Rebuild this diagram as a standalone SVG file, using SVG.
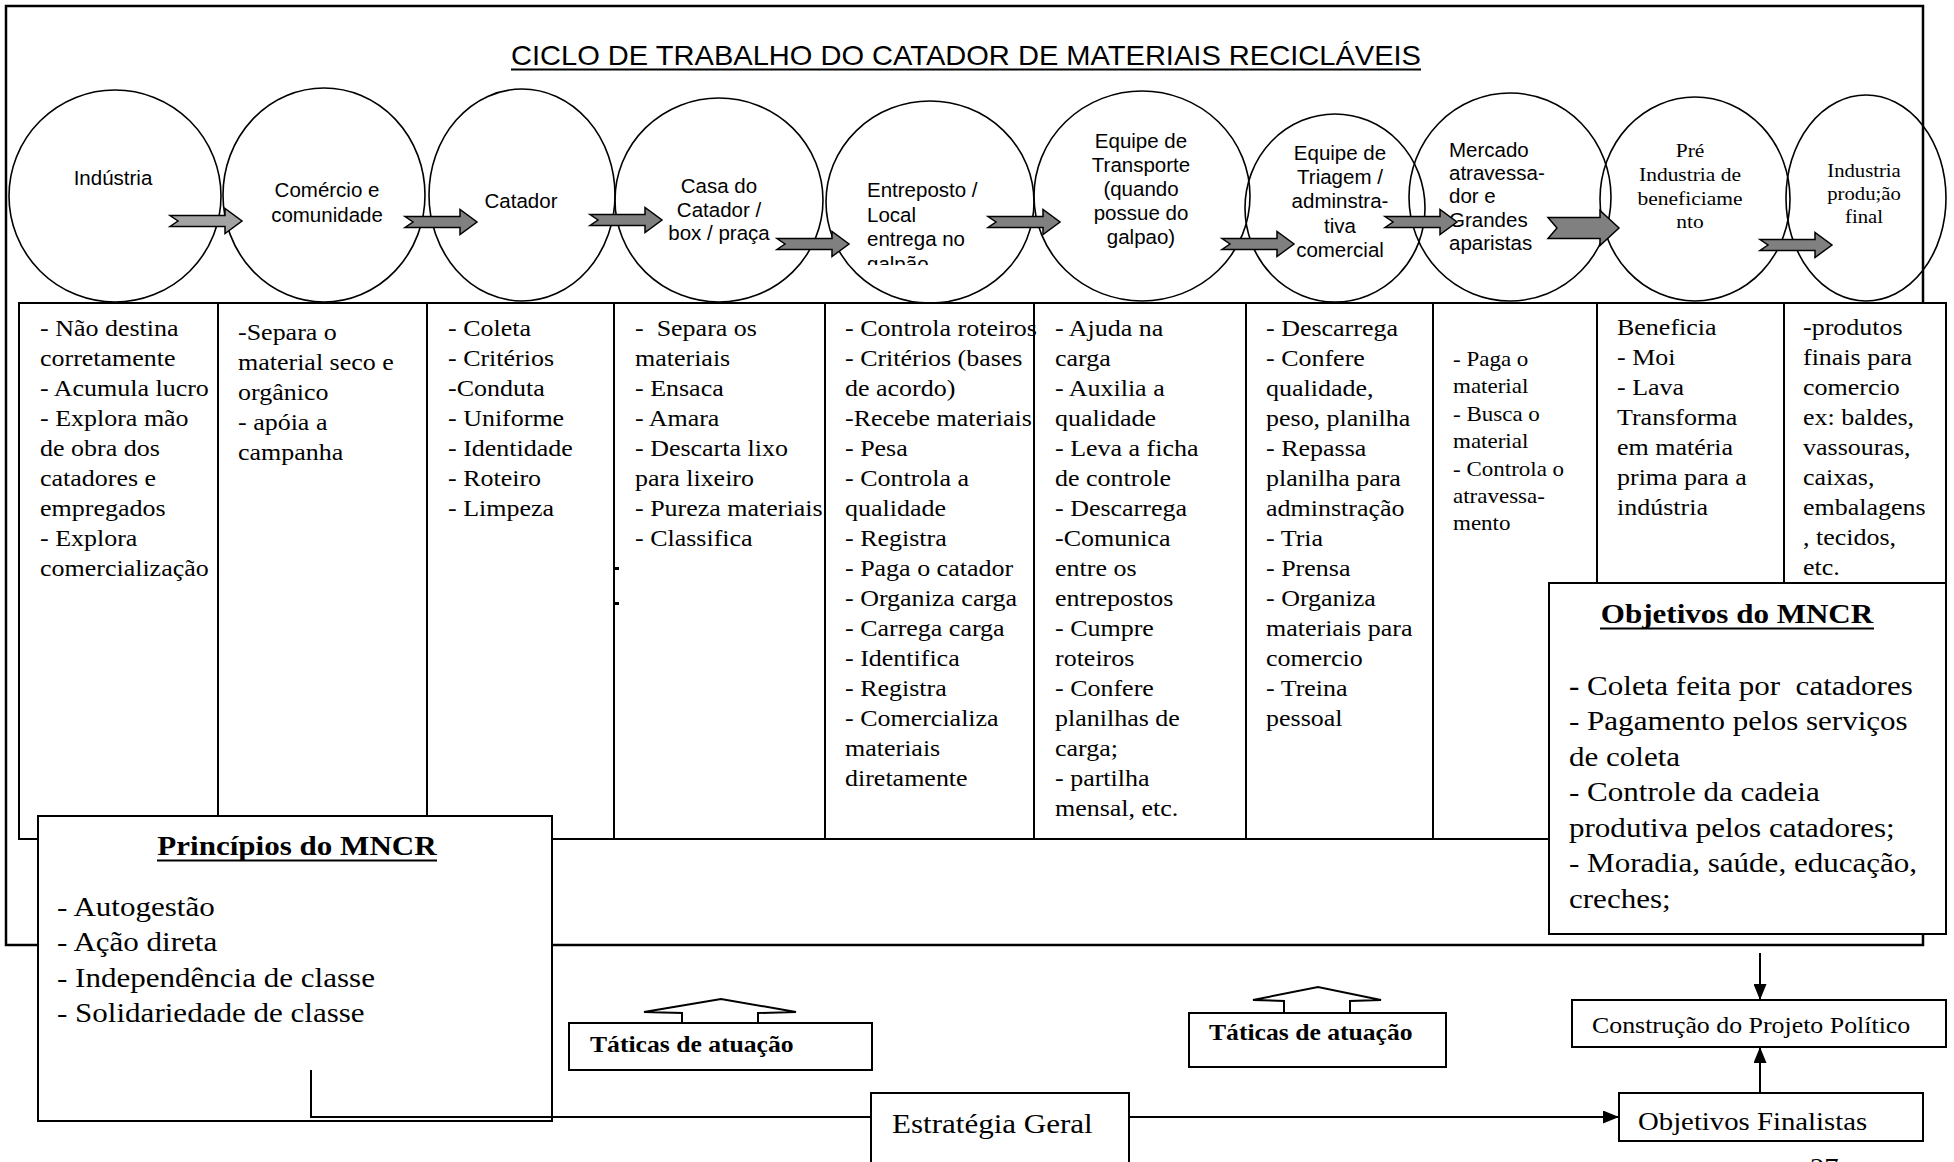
<svg xmlns="http://www.w3.org/2000/svg" width="1954" height="1162" viewBox="0 0 1954 1162">
<defs>
<style>
.ln{fill:none;stroke:#000;stroke-width:2}
.box{fill:#fff;stroke:#000;stroke-width:2}
.frame{fill:none;stroke:#000;stroke-width:2.5}
.ell{fill:none;stroke:#000;stroke-width:1.6}
.ar{font-family:"Liberation Sans",Arial,sans-serif;font-size:20.5px;fill:#000}
.tm{font-family:"Liberation Serif","Times New Roman",serif;fill:#000}
.cell{font-size:22.6px}
.small{font-size:20px}
.big{font-size:27px}
.b{font-weight:bold}
.blk{fill:#808080;stroke:#000;stroke-width:1.5}
.blk1{fill:#a3a3a3;stroke:#000;stroke-width:1.5}
.tick{fill:#000}
</style>
<path id="blk" d="M0,-5.5 H55 V-12.5 L72,0 L55,12.5 V5.5 H0 L8,0 Z"/>
<path id="blkBig" d="M0,-10.5 H52 V-17.5 L71,0 L52,17.5 V10.5 H0 L9,0 Z"/>
<marker id="ah" markerWidth="16" markerHeight="13" refX="16" refY="6.5" orient="auto" markerUnits="userSpaceOnUse"><path d="M0,0 L16,6.5 L0,13 Z" fill="#000"/></marker>
<clipPath id="clipE"><rect x="840" y="150" width="180" height="115"/></clipPath>
</defs>
<rect width="1954" height="1162" fill="#fff"/>

<!-- outer frame -->
<rect class="frame" x="6" y="6" width="1917" height="939"/>

<!-- title -->
<g id="title">
<text class="ar" x="511" y="65" style="font-size:28.5px" textLength="910" lengthAdjust="spacingAndGlyphs">CICLO DE TRABALHO DO CATADOR DE MATERIAIS RECICLÁVEIS</text>
<line class="ln" x1="511" y1="69.5" x2="1421" y2="69.5"/>
</g>

<!-- ellipse nodes -->
<g id="n-industria"><ellipse class="ell" cx="115" cy="196" rx="106" ry="106"/><text class="ar" text-anchor="middle" x="113" y="185">Indústria</text></g>
<g id="n-comercio"><ellipse class="ell" cx="324" cy="195" rx="101" ry="107"/><text class="ar" text-anchor="middle"><tspan x="327" y="197">Comércio e</tspan><tspan x="327" y="222">comunidade</tspan></text></g>
<g id="n-catador"><ellipse class="ell" cx="522" cy="195" rx="93" ry="106"/><text class="ar" text-anchor="middle" x="521" y="208">Catador</text></g>
<g id="n-casa"><ellipse class="ell" cx="719" cy="200" rx="104" ry="102"/><text class="ar" text-anchor="middle"><tspan x="719" y="193">Casa do</tspan><tspan x="719" y="217">Catador /</tspan><tspan x="719" y="240">box / praça</tspan></text></g>
<g id="n-entreposto"><ellipse class="ell" cx="930" cy="202" rx="104" ry="101"/><text class="ar" clip-path="url(#clipE)"><tspan x="867" y="197">Entreposto /</tspan><tspan x="867" y="222">Local</tspan><tspan x="867" y="246">entrega no</tspan><tspan x="867" y="271">galpão</tspan></text></g>
<g id="n-transporte"><ellipse class="ell" cx="1142" cy="196" rx="108" ry="105"/><text class="ar" text-anchor="middle"><tspan x="1141" y="148">Equipe de</tspan><tspan x="1141" y="172">Transporte</tspan><tspan x="1141" y="196">(quando</tspan><tspan x="1141" y="220">possue do</tspan><tspan x="1141" y="244">galpao)</tspan></text></g>
<g id="n-triagem"><ellipse class="ell" cx="1335" cy="208" rx="90" ry="94"/><text class="ar" text-anchor="middle"><tspan x="1340" y="160">Equipe de</tspan><tspan x="1340" y="184">Triagem /</tspan><tspan x="1340" y="208">adminstra-</tspan><tspan x="1340" y="233">tiva</tspan><tspan x="1340" y="257">comercial</tspan></text></g>
<g id="n-mercado"><ellipse class="ell" cx="1510" cy="197" rx="101" ry="104"/><text class="ar"><tspan x="1449" y="157">Mercado</tspan><tspan x="1449" y="180">atravessa-</tspan><tspan x="1449" y="203">dor e</tspan><tspan x="1449" y="227">Grandes</tspan><tspan x="1449" y="250">aparistas</tspan></text></g>
<g id="n-pre"><ellipse class="ell" cx="1695" cy="199" rx="95" ry="102"/><text class="tm" text-anchor="middle" transform="translate(1690,0) scale(1.15,1)" style="font-size:18.7px"><tspan x="0" y="157">Pré</tspan><tspan x="0" y="181">Industria de</tspan><tspan x="0" y="205">beneficiame</tspan><tspan x="0" y="228">nto</tspan></text></g>
<g id="n-final"><ellipse class="ell" cx="1866" cy="198" rx="80" ry="103"/><text class="tm" text-anchor="middle" transform="translate(1864,0) scale(1.15,1)" style="font-size:18px"><tspan x="0" y="177">Industria</tspan><tspan x="0" y="200">produ;ão</tspan><tspan x="0" y="223">final</tspan></text></g>

<!-- block arrows -->
<g id="connectors-flow">
<use href="#blk" class="blk1" transform="translate(170,221)"/>
<use href="#blk" class="blk" transform="translate(405,222)"/>
<use href="#blk" class="blk" transform="translate(590,220)"/>
<use href="#blk" class="blk" transform="translate(777,244)"/>
<use href="#blk" class="blk" transform="translate(988,222)"/>
<use href="#blk" class="blk" transform="translate(1222,244)"/>
<use href="#blk" class="blk" transform="translate(1385,222)"/>
<use href="#blkBig" class="blk" transform="translate(1548,228)"/>
<use href="#blk" class="blk" transform="translate(1760,245)"/>
</g>

<!-- table -->
<g id="table">
<rect class="box" x="19" y="303" width="1927" height="536"/>
<path class="ln" d="M218,303V839 M427,303V839 M614,303V839 M825,303V839 M1034,303V839 M1246,303V839 M1433,303V839 M1597,303V839 M1784,303V839"/>
<rect class="tick" x="614" y="567" width="5" height="3"/>
<rect class="tick" x="614" y="602" width="5" height="3"/>
</g>

<g id="col1"><text class="tm cell" transform="translate(40,336) scale(1.15,1)"><tspan x="0" y="0">- Não destina</tspan><tspan x="0" y="30">corretamente</tspan><tspan x="0" y="60">- Acumula lucro</tspan><tspan x="0" y="90">- Explora mão</tspan><tspan x="0" y="120">de obra dos</tspan><tspan x="0" y="150">catadores e</tspan><tspan x="0" y="180">empregados</tspan><tspan x="0" y="210">- Explora</tspan><tspan x="0" y="240">comercialização</tspan></text></g>
<g id="col2"><text class="tm cell" transform="translate(238,340) scale(1.15,1)"><tspan x="0" y="0">-Separa o</tspan><tspan x="0" y="30">material seco e</tspan><tspan x="0" y="60">orgânico</tspan><tspan x="0" y="90">- apóia a</tspan><tspan x="0" y="120">campanha</tspan></text></g>
<g id="col3"><text class="tm cell" transform="translate(448,336) scale(1.15,1)"><tspan x="0" y="0">- Coleta</tspan><tspan x="0" y="30">- Critérios</tspan><tspan x="0" y="60">-Conduta</tspan><tspan x="0" y="90">- Uniforme</tspan><tspan x="0" y="120">- Identidade</tspan><tspan x="0" y="150">- Roteiro</tspan><tspan x="0" y="180">- Limpeza</tspan></text></g>
<g id="col4"><text class="tm cell" transform="translate(635,336) scale(1.15,1)"><tspan x="0" y="0">-&#160; Separa os</tspan><tspan x="0" y="30">materiais</tspan><tspan x="0" y="60">- Ensaca</tspan><tspan x="0" y="90">- Amara</tspan><tspan x="0" y="120">- Descarta lixo</tspan><tspan x="0" y="150">para lixeiro</tspan><tspan x="0" y="180">- Pureza materiais</tspan><tspan x="0" y="210">- Classifica</tspan></text></g>
<g id="col5"><text class="tm cell" transform="translate(845,336) scale(1.15,1)"><tspan x="0" y="0">- Controla roteiros</tspan><tspan x="0" y="30">- Critérios (bases</tspan><tspan x="0" y="60">de acordo)</tspan><tspan x="0" y="90">-Recebe materiais</tspan><tspan x="0" y="120">- Pesa</tspan><tspan x="0" y="150">- Controla a</tspan><tspan x="0" y="180">qualidade</tspan><tspan x="0" y="210">- Registra</tspan><tspan x="0" y="240">- Paga o catador</tspan><tspan x="0" y="270">- Organiza carga</tspan><tspan x="0" y="300">- Carrega carga</tspan><tspan x="0" y="330">- Identifica</tspan><tspan x="0" y="360">- Registra</tspan><tspan x="0" y="390">- Comercializa</tspan><tspan x="0" y="420">materiais</tspan><tspan x="0" y="450">diretamente</tspan></text></g>
<g id="col6"><text class="tm cell" transform="translate(1055,336) scale(1.15,1)"><tspan x="0" y="0">- Ajuda na</tspan><tspan x="0" y="30">carga</tspan><tspan x="0" y="60">- Auxilia a</tspan><tspan x="0" y="90">qualidade</tspan><tspan x="0" y="120">- Leva a ficha</tspan><tspan x="0" y="150">de controle</tspan><tspan x="0" y="180">- Descarrega</tspan><tspan x="0" y="210">-Comunica</tspan><tspan x="0" y="240">entre os</tspan><tspan x="0" y="270">entrepostos</tspan><tspan x="0" y="300">- Cumpre</tspan><tspan x="0" y="330">roteiros</tspan><tspan x="0" y="360">- Confere</tspan><tspan x="0" y="390">planilhas de</tspan><tspan x="0" y="420">carga;</tspan><tspan x="0" y="450">- partilha</tspan><tspan x="0" y="480">mensal, etc.</tspan></text></g>
<g id="col7"><text class="tm cell" transform="translate(1266,336) scale(1.15,1)"><tspan x="0" y="0">- Descarrega</tspan><tspan x="0" y="30">- Confere</tspan><tspan x="0" y="60">qualidade,</tspan><tspan x="0" y="90">peso, planilha</tspan><tspan x="0" y="120">- Repassa</tspan><tspan x="0" y="150">planilha para</tspan><tspan x="0" y="180">adminstração</tspan><tspan x="0" y="210">- Tria</tspan><tspan x="0" y="240">- Prensa</tspan><tspan x="0" y="270">- Organiza</tspan><tspan x="0" y="300">materiais para</tspan><tspan x="0" y="330">comercio</tspan><tspan x="0" y="360">- Treina</tspan><tspan x="0" y="390">pessoal</tspan></text></g>
<g id="col8"><text class="tm small" transform="translate(1453,366) scale(1.15,1)"><tspan x="0" y="0">- Paga o</tspan><tspan x="0" y="27.4">material</tspan><tspan x="0" y="54.8">- Busca o</tspan><tspan x="0" y="82.2">material</tspan><tspan x="0" y="109.6">- Controla o</tspan><tspan x="0" y="137">atravessa-</tspan><tspan x="0" y="164.4">mento</tspan></text></g>
<g id="col9"><text class="tm cell" transform="translate(1617,335) scale(1.15,1)"><tspan x="0" y="0">Beneficia</tspan><tspan x="0" y="30">- Moi</tspan><tspan x="0" y="60">- Lava</tspan><tspan x="0" y="90">Transforma</tspan><tspan x="0" y="120">em matéria</tspan><tspan x="0" y="150">prima para a</tspan><tspan x="0" y="180">indústria</tspan></text></g>
<g id="col10"><text class="tm cell" transform="translate(1803,335) scale(1.15,1)"><tspan x="0" y="0">-produtos</tspan><tspan x="0" y="30">finais para</tspan><tspan x="0" y="60">comercio</tspan><tspan x="0" y="90">ex: baldes,</tspan><tspan x="0" y="120">vassouras,</tspan><tspan x="0" y="150">caixas,</tspan><tspan x="0" y="180">embalagens</tspan><tspan x="0" y="210">, tecidos,</tspan><tspan x="0" y="240">etc.</tspan></text></g>

<!-- Objetivos do MNCR -->
<g id="objetivos-mncr">
<rect class="box" x="1549" y="583" width="397" height="351"/>
<text class="tm big b" text-anchor="middle" transform="translate(1737,623) scale(1.15,1)" x="0" y="0">Objetivos do MNCR</text>
<line class="ln" x1="1600" y1="628.5" x2="1874" y2="628.5"/>
<text class="tm big" transform="translate(1569,0) scale(1.15,1)"><tspan x="0" y="695"><tspan class="b">-</tspan> Coleta feita por&#160; catadores</tspan><tspan x="0" y="730.5">- Pagamento pelos serviços</tspan><tspan x="0" y="766">de coleta</tspan><tspan x="0" y="801.5">- Controle da cadeia</tspan><tspan x="0" y="837">produtiva pelos catadores;</tspan><tspan x="0" y="872.5">- Moradia, saúde, educação,</tspan><tspan x="0" y="908">creches;</tspan></text>
</g>

<!-- Princípios do MNCR -->
<g id="principios-mncr">
<rect class="box" x="38" y="816" width="514" height="305"/>
<text class="tm big b" text-anchor="middle" transform="translate(297,855) scale(1.15,1)" x="0" y="0">Princípios do MNCR</text>
<line class="ln" x1="157" y1="860.5" x2="437" y2="860.5"/>
<text class="tm big" transform="translate(57,0) scale(1.15,1)"><tspan x="0" y="916">- Autogestão</tspan><tspan x="0" y="951">- Ação direta</tspan><tspan x="0" y="987">- Independência de classe</tspan><tspan x="0" y="1022">- Solidariedade de classe</tspan></text>
</g>

<!-- Táticas de atuação (left) -->
<g id="taticas-1">
<polygon class="box" points="682,1023 682,1013 644,1012 721,999 796,1012 758,1013 758,1023"/>
<rect class="box" x="569" y="1023" width="303" height="47"/>
<text class="tm b" transform="translate(590,1052) scale(1.15,1)" style="font-size:22.3px" x="0" y="0">Táticas de atuação</text>
</g>

<!-- Táticas de atuação (right) -->
<g id="taticas-2">
<polygon class="box" points="1284,1013 1284,1001 1253,1000 1318,987 1381,1000 1350,1001 1350,1013"/>
<rect class="box" x="1189" y="1013" width="257" height="54"/>
<text class="tm b" transform="translate(1209,1040) scale(1.15,1)" style="font-size:22.3px" x="0" y="0">Táticas de atuação</text>
</g>

<!-- Estratégia Geral -->
<g id="estrategia">
<rect class="box" x="871" y="1093" width="258" height="100"/>
<text class="tm big" transform="translate(892,1133) scale(1.15,1)" x="0" y="0">Estratégia Geral</text>
</g>

<!-- Objetivos Finalistas -->
<g id="obj-finalistas">
<rect class="box" x="1619" y="1093" width="304" height="48"/>
<text class="tm" transform="translate(1638,1130) scale(1.15,1)" style="font-size:25px" x="0" y="0">Objetivos Finalistas</text>
</g>

<!-- Construção do Projeto Político -->
<g id="construcao">
<rect class="box" x="1572" y="1000" width="374" height="47"/>
<text class="tm" transform="translate(1592,1033) scale(1.15,1)" style="font-size:22.5px" x="0" y="0">Construção do Projeto Político</text>
</g>

<!-- connectors -->
<g id="connectors">
<path class="ln" d="M311,1070 V1117 H871"/>
<path class="ln" d="M1129,1117 H1619" marker-end="url(#ah)"/>
<path class="ln" d="M1760,1093 V1047" marker-end="url(#ah)"/>
<path class="ln" d="M1760,953 V1000" marker-end="url(#ah)"/>
</g>

<text class="tm" transform="translate(1810,1176) scale(1.15,1)" style="font-size:25px" x="0" y="0">27</text>
</svg>
